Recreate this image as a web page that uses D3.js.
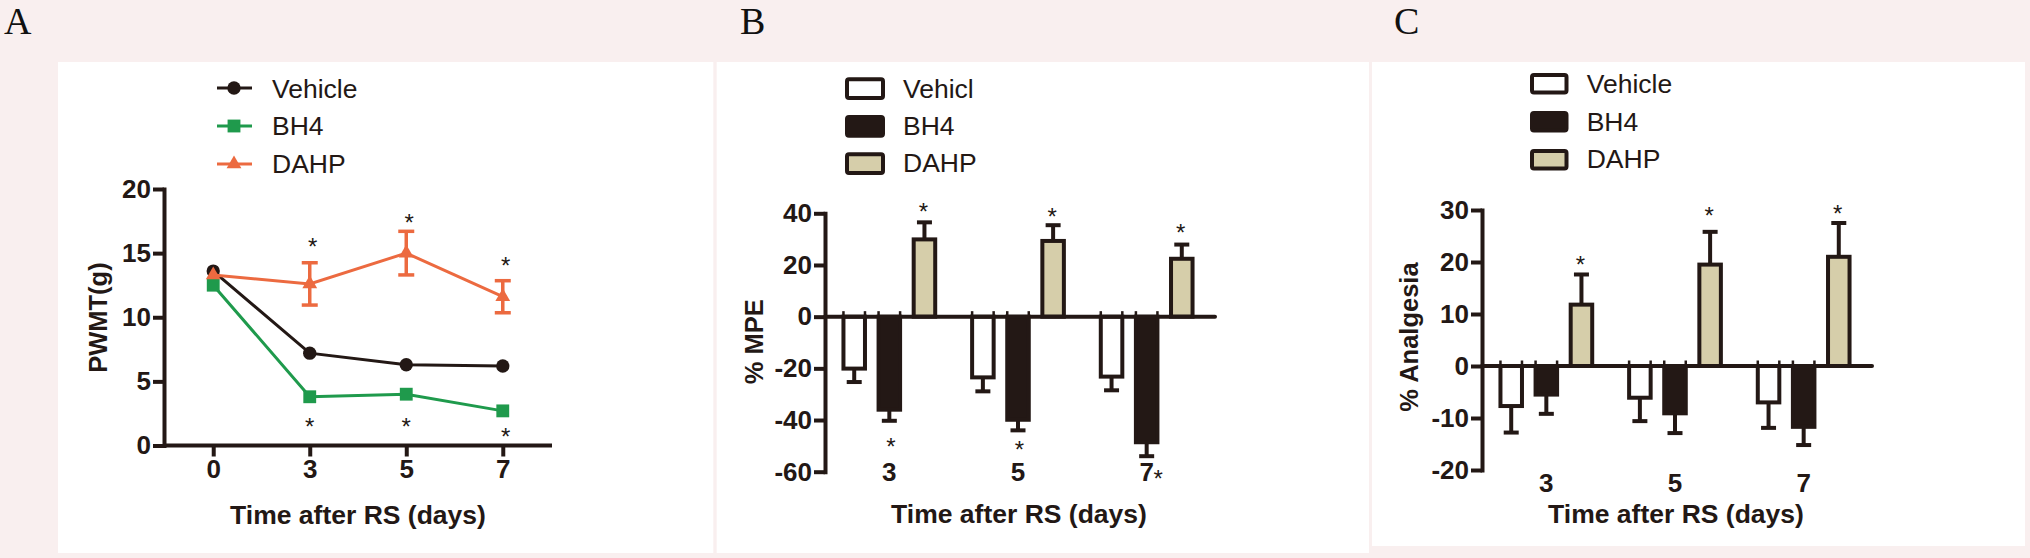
<!DOCTYPE html>
<html><head><meta charset="utf-8">
<script src="https://cdn.jsdelivr.net/npm/d3@7"></script>
<style>html,body{margin:0;padding:0;background:#f9efef;} svg{display:block;}</style>
</head><body>
<svg id="chart" width="2030" height="558"></svg>
<script>
// ---------------- data ----------------
// Panel A (line chart)
const daysA = [0, 3, 5, 7];
const seriesA = ["Vehicle", "BH4", "DAHP"];
const vehicleA = [13.6, 7.2, 6.3, 6.2];
const bh4A = [12.5, 3.8, 4.0, 2.7];
const dahpA = [13.3, 12.6, 15.0, 11.6];
const dahpAErr = [0, 1.65, 1.7, 1.25];
const starDaysA = [3, 5, 7];
const starsAUpper = [15.9, 17.8, 14.4];
const starsALower = [1.85, 1.85, 1.07];
const yTicksA = [0, 5, 10, 15, 20];

// Panels B and C (bar charts)
const daysBC = [3, 5, 7];
const seriesB = ["Vehicl", "BH4", "DAHP"];
const seriesC = ["Vehicle", "BH4", "DAHP"];

const vehicleB = [-20.1, -23.5, -23.2];
const vehicleBErr = [5.2, 5.4, 5.3];
const bh4B = [-36.0, -39.9, -48.6];
const bh4BErr = [4.3, 4.1, 5.4];
const dahpB = [29.9, 29.3, 22.4];
const dahpBErr = [6.6, 6.1, 5.5];
const starsBUpper = [42.8, 40.7, 34.4];
const starsBLower = [-48.2, -49.6, -60.7];
const yTicksB = [-60, -40, -20, 0, 20, 40];

const vehicleC = [-7.7, -6.1, -7.0];
const vehicleCErr = [5.1, 4.5, 4.9];
const bh4C = [-5.5, -9.1, -11.7];
const bh4CErr = [3.7, 3.8, 3.5];
const dahpC = [11.8, 19.5, 21.0];
const dahpCErr = [5.8, 6.3, 6.5];
const starsCUpper = [20.5, 30.0, 30.3];
const yTicksC = [-20, -10, 0, 10, 20, 30];

const xTitle = "Time after RS (days)";

// ---------------- style ----------------
const INK = "#231815", GREEN = "#1f9a4c", ORANGE = "#ec6a40", BEIGE = "#d6ceaa";
const SANS = "'Liberation Sans', Arial, Helvetica, sans-serif";
const SERIF = "'Liberation Serif', 'Times New Roman', serif";
const fmt = d => String(d); // plain hyphen-minus as in the original

const svg = d3.select("#chart");
svg.append("rect").attr("width", 2030).attr("height", 558).attr("fill", "#f9efef");
[[58, 62, 655.3, 491], [716.7, 62, 652.3, 491], [1372, 62, 653, 484]].forEach(p => {
  svg.append("rect").attr("x", p[0]).attr("y", p[1]).attr("width", p[2]).attr("height", p[3]).attr("fill", "#ffffff");
});
[["A", 4], ["B", 740], ["C", 1394]].forEach(l => {
  svg.append("text").attr("x", l[1]).attr("y", 34).text(l[0])
    .style("font", `38px ${SERIF}`).attr("fill", "#111");
});

function txt(x, y, s, font, anchor, rot) {
  const t = svg.append("text").text(s).style("font", font).attr("fill", INK)
    .attr("text-anchor", anchor || "start");
  if (rot) t.attr("transform", `translate(${x},${y}) rotate(${rot})`);
  else t.attr("x", x).attr("y", y);
  return t;
}
function star(x, y) { // y = visual centre of the asterisk
  txt(x, y + 13.5, "*", `24px ${SANS}`, "middle");
}
function yAxis(scale, ticks, x) {
  const ax = d3.axisLeft(scale).tickValues(ticks).tickFormat(fmt)
    .tickSize(11).tickSizeOuter(0).tickPadding(2);
  const g = svg.append("g").attr("transform", `translate(${x},0)`).call(ax)
    .attr("font-size", null).attr("font-family", null);
  g.select(".domain").attr("stroke", INK).attr("stroke-width", 4).attr("stroke-linecap", "square");
  g.selectAll(".tick line").attr("stroke", INK).attr("stroke-width", 4);
  g.selectAll(".tick text").attr("fill", INK).style("font", `bold 26px ${SANS}`);
  return g;
}

// ---------------- Panel A ----------------
(function () {
  const x = d3.scalePoint().domain(daysA).range([164, 552]).padding(0.51);
  const y = d3.scaleLinear().domain([0, 20]).range([445.5, 189]);

  yAxis(y, yTicksA, 164);
  const xa = d3.axisBottom(x).tickFormat(fmt).tickSize(11).tickSizeOuter(0).tickPadding(3.5);
  const gx = svg.append("g").attr("transform", `translate(0,${y(0)})`).call(xa)
    .attr("font-size", null).attr("font-family", null);
  gx.select(".domain").attr("d", `M164,0H552`).attr("stroke", INK).attr("stroke-width", 4);
  gx.selectAll(".tick line").attr("stroke", INK).attr("stroke-width", 4);
  gx.selectAll(".tick text").attr("fill", INK).style("font", `bold 26px ${SANS}`);

  txt(107, 317.6, "PWMT(g)", `bold 25.5px ${SANS}`, "middle", -90);
  txt(358, 524, xTitle, `bold 26.5px ${SANS}`, "middle");

  const line = d3.line().x((d, i) => x(daysA[i])).y(d => y(d));
  const defs = [
    { vals: bh4A, color: GREEN, sym: d3.symbolSquare, size: 165 },
    { vals: vehicleA, color: INK, sym: d3.symbolCircle, size: 140 },
    { vals: dahpA, color: ORANGE, sym: d3.symbolTriangle, size: 95, err: dahpAErr }
  ];
  defs.forEach(s => {
    svg.append("path").attr("d", line(s.vals)).attr("fill", "none")
      .attr("stroke", s.color).attr("stroke-width", 3);
    if (s.err) {
      s.vals.forEach((v, i) => {
        if (!s.err[i]) return;
        const cx = x(daysA[i]);
        const g = svg.append("g").attr("stroke", s.color).attr("stroke-width", 3.5);
        g.append("line").attr("x1", cx).attr("x2", cx).attr("y1", y(v - s.err[i])).attr("y2", y(v + s.err[i]));
        [v - s.err[i], v + s.err[i]].forEach(e =>
          g.append("line").attr("x1", cx - 8).attr("x2", cx + 8).attr("y1", y(e)).attr("y2", y(e)));
      });
    }
    s.vals.forEach((v, i) => {
      svg.append("path").attr("d", d3.symbol(s.sym, s.size)())
        .attr("transform", `translate(${x(daysA[i])},${y(v)})`).attr("fill", s.color);
    });
  });
  starDaysA.forEach((d, i) => {
    star(x(d) + 3, y(starsAUpper[i]));
    star(x(d) + (i === 2 ? 3 : 0), y(starsALower[i]));
  });

  // legend
  const leg = [
    { name: seriesA[0], color: INK, sym: d3.symbolCircle, size: 140, ly: 88, by: 98 },
    { name: seriesA[1], color: GREEN, sym: d3.symbolSquare, size: 165, ly: 126, by: 135 },
    { name: seriesA[2], color: ORANGE, sym: d3.symbolTriangle, size: 95, ly: 164, by: 172.6 }
  ];
  leg.forEach(l => {
    svg.append("line").attr("x1", 217).attr("x2", 252).attr("y1", l.ly).attr("y2", l.ly)
      .attr("stroke", l.color).attr("stroke-width", 3);
    svg.append("path").attr("d", d3.symbol(l.sym, l.size)())
      .attr("transform", `translate(234,${l.ly})`).attr("fill", l.color);
    txt(272, l.by, l.name, `26.5px ${SANS}`);
  });
})();

// ---------------- Bar panels ----------------
function barPanel(cfg) {
  const x = d3.scaleBand().domain(daysBC).range([cfg.x0, cfg.x1]);
  const xi = d3.scaleBand().domain(cfg.series).range([0, x.bandwidth()])
    .paddingInner(0.387).paddingOuter(0.5255);
  const y = d3.scaleLinear().domain(cfg.domain).range([cfg.yBottom, cfg.yTop]);
  const bw = xi.bandwidth();

  yAxis(y, cfg.ticks, cfg.x0);

  cfg.rows.forEach((r, si) => {
    const name = cfg.series[si];
    r.vals.forEach((v, i) => {
      const bx = x(daysBC[i]) + xi(name);
      const cx = bx + bw / 2;
      const e = v < 0 ? v - r.err[i] : v + r.err[i];
      const g = svg.append("g").attr("stroke", INK).attr("stroke-width", 4);
      g.append("line").attr("x1", cx).attr("x2", cx).attr("y1", y(v)).attr("y2", y(e));
      g.append("line").attr("x1", cx - 7.5).attr("x2", cx + 7.5).attr("y1", y(e)).attr("y2", y(e));
      svg.append("rect").attr("x", bx).attr("width", bw)
        .attr("y", Math.min(y(v), y(0))).attr("height", Math.abs(y(v) - y(0)))
        .attr("fill", r.fill).attr("stroke", INK).attr("stroke-width", 4);
      if (v < 0) {
        [bx, bx + bw].forEach(ex => svg.append("line").attr("x1", ex).attr("x2", ex)
          .attr("y1", y(0)).attr("y2", y(0) - 5.5).attr("stroke", INK).attr("stroke-width", 2.5));
      }
    });
  });
  // zero line
  svg.append("line").attr("x1", cfg.x0).attr("x2", cfg.x1 + 4).attr("y1", y(0)).attr("y2", y(0))
    .attr("stroke", INK).attr("stroke-width", 4).attr("stroke-linecap", "round");

  // x labels
  daysBC.forEach(d => {
    txt(x(d) + x.bandwidth() / 2, cfg.labelY, fmt(d), `bold 26px ${SANS}`, "middle");
  });
  // stars
  const dIdx = cfg.series.indexOf("DAHP"), bIdx = cfg.series.indexOf("BH4");
  cfg.starsUpper.forEach((s, i) => {
    star(x(daysBC[i]) + xi(cfg.series[dIdx]) + bw / 2 - 1, y(s));
  });
  if (cfg.starsLower) cfg.starsLower.forEach((s, i) => {
    star(x(daysBC[i]) + xi(cfg.series[bIdx]) + bw / 2 + (i === 2 ? 11.6 : 1.5), y(s));
  });

  txt(cfg.yTitleX, cfg.yTitleY, cfg.yTitle, `bold 25.5px ${SANS}`, "middle", -90);
  txt((cfg.x0 + cfg.x1) / 2 + 1, cfg.titleY, xTitle, `bold 26.5px ${SANS}`, "middle");

  // legend
  cfg.series.forEach((name, i) => {
    const lg = cfg.legend;
    svg.append("rect").attr("x", lg.x + 2).attr("y", lg.ys[i] + 2).attr("width", lg.w - 4).attr("height", lg.h - 4)
      .attr("rx", 2).attr("fill", cfg.rows[i].fill).attr("stroke", INK).attr("stroke-width", 4);
    txt(lg.tx, lg.bys[i], name, `26.5px ${SANS}`);
  });
}

barPanel({
  x0: 825, x1: 1211, yTop: 213.3, yBottom: 471.7, domain: [-60, 40], ticks: yTicksB,
  series: seriesB,
  rows: [
    { vals: vehicleB, err: vehicleBErr, fill: "#ffffff" },
    { vals: bh4B, err: bh4BErr, fill: INK },
    { vals: dahpB, err: dahpBErr, fill: BEIGE }
  ],
  starsUpper: starsBUpper, starsLower: starsBLower,
  labelY: 480.5, titleY: 523,
  yTitle: "% MPE", yTitleX: 763, yTitleY: 341.7,
  legend: { x: 845, w: 40, h: 22.7, ys: [77.3, 115, 152.3], tx: 903, bys: [98.3, 135, 171.7] }
});

barPanel({
  x0: 1482, x1: 1868, yTop: 210, yBottom: 470, domain: [-20, 30], ticks: yTicksC,
  series: seriesC,
  rows: [
    { vals: vehicleC, err: vehicleCErr, fill: "#ffffff" },
    { vals: bh4C, err: bh4CErr, fill: INK },
    { vals: dahpC, err: dahpCErr, fill: BEIGE }
  ],
  starsUpper: starsCUpper, starsLower: null,
  labelY: 491.7, titleY: 522.5,
  yTitle: "% Analgesia", yTitleX: 1418, yTitleY: 337,
  legend: { x: 1530, w: 38.5, h: 21.5, ys: [73, 111, 149], tx: 1586.7, bys: [93.2, 131, 168] }
});
</script>
</body></html>
